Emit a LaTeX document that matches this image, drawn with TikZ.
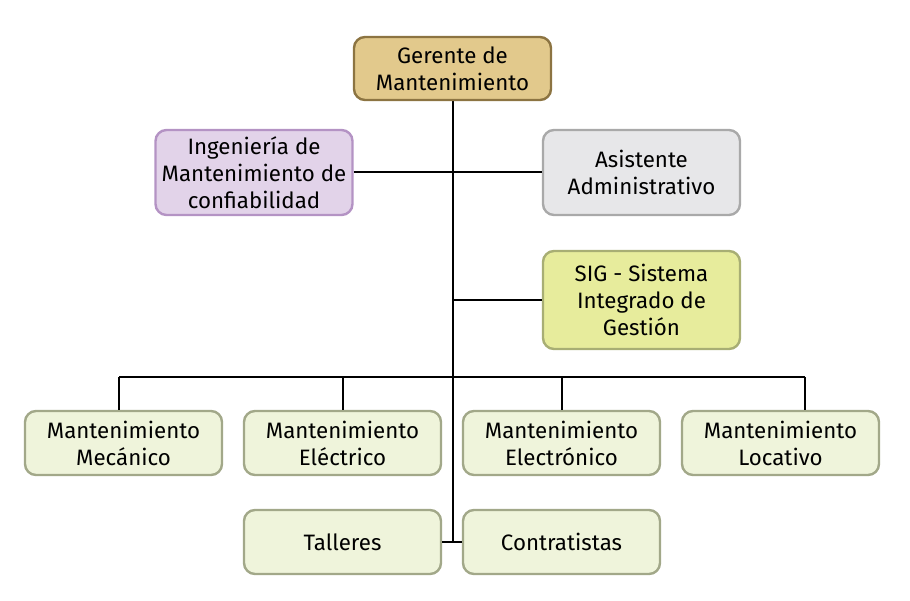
\documentclass[tikz,border=0pt]{standalone}
\usepackage{fontspec}
\setmainfont{Fira Sans}
\definecolor{tanF}{HTML}{E2C98C}
\definecolor{tanD}{HTML}{8C7442}
\definecolor{lavF}{HTML}{E2D3E9}
\definecolor{lavD}{HTML}{B493C4}
\definecolor{gryF}{HTML}{E7E7E9}
\definecolor{gryD}{HTML}{A9A9A9}
\definecolor{yelF}{HTML}{E7EC9C}
\definecolor{yelD}{HTML}{A8AE74}
\definecolor{grnF}{HTML}{EFF4DB}
\definecolor{grnD}{HTML}{A2A889}
\begin{document}
\begin{tikzpicture}[x=1pt,y=-1pt,
  box/.style={rounded corners=11pt,line width=2.4pt,minimum width=197pt,align=center,inner sep=0pt,font=\fontsize{22.3}{27}\selectfont},
  tanbox/.style={box,fill=tanF,draw=tanD,minimum height=63pt},
  lavbox/.style={box,fill=lavF,draw=lavD,minimum height=85pt},
  grybox/.style={box,fill=gryF,draw=gryD,minimum height=85pt},
  yelbox/.style={box,fill=yelF,draw=yelD,minimum height=98pt},
  grnbox/.style={box,fill=grnF,draw=grnD,minimum height=64pt},
  conn/.style={line width=2pt,black}]
\useasboundingbox (0,0) rectangle (910,601);
\coordinate (top) at (453,101);
\coordinate (sigj) at (453,300);
\coordinate (bot) at (453,542);
\coordinate (b1) at (119,377);
\coordinate (b2) at (343,377);
\coordinate (b3) at (562,377);
\coordinate (b4) at (805,377);
\draw[conn] (top) -- (bot);
\draw[conn] (b1) -- (b4);
\node[tanbox] (ger) at (452.5,68.5) {Gerente de\\Mantenimiento};
\node[lavbox] (ing) at (254,172.5) {Ingeniería de\\Mantenimiento de\\confiabilidad};
\node[grybox] (asi) at (641.5,172.5) {Asistente\\Administrativo};
\node[yelbox] (sig) at (641.5,300) {SIG - Sistema\\Integrado de\\Gestión};
\node[grnbox] (mec) at (123.5,443) {Mantenimiento\\Mecánico};
\node[grnbox] (ele) at (342.5,443) {Mantenimiento\\Eléctrico};
\node[grnbox] (elo) at (561.5,443) {Mantenimiento\\Electrónico};
\node[grnbox] (loc) at (780.5,443) {Mantenimiento\\Locativo};
\node[grnbox] (tal) at (342.5,542) {Talleres};
\node[grnbox] (con) at (561.5,542) {Contratistas};
\draw[conn] (ing.east) -- (asi.west);
\draw[conn] (sigj) -- (sig.west);
\draw[conn] (b1) -- (b1 |- mec.north);
\draw[conn] (b2) -- (b2 |- ele.north);
\draw[conn] (b3) -- (b3 |- elo.north);
\draw[conn] (b4) -- (b4 |- loc.north);
\draw[conn] (tal.east) -- (con.west);
\end{tikzpicture}
\end{document}
